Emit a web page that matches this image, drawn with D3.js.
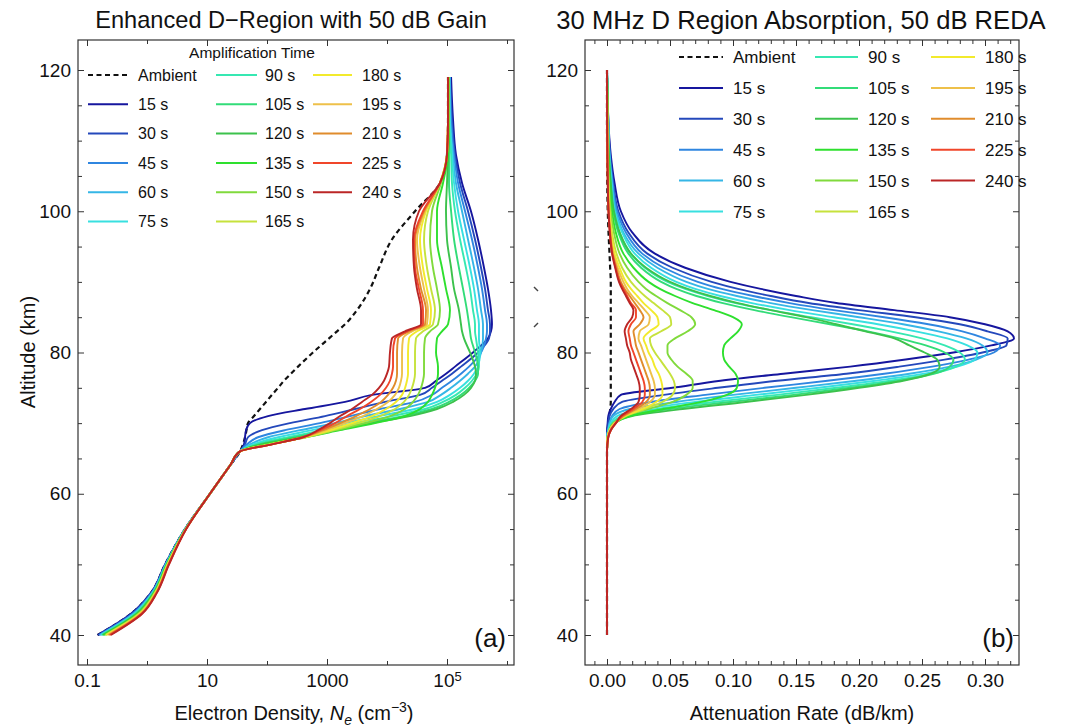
<!DOCTYPE html>
<html>
<head>
<meta charset="utf-8">
<script src="https://cdn.jsdelivr.net/npm/d3@7/dist/d3.min.js"></script>
<style>
html,body{margin:0;padding:0;background:#fff;}
svg text{font-family:'Liberation Sans',Arial,Helvetica,sans-serif;}
</style>
</head>
<body>
<svg id="chart" width="1083" height="727"></svg>
<script>
// ---------------- DATA ----------------
const timeLabels = ["15 s","30 s","45 s","60 s","75 s","90 s","105 s","120 s","135 s","150 s","165 s","180 s","195 s","210 s","225 s","240 s"];
const timeColors = ["#16169e","#2448bb","#2f86e0","#35b6e6","#38e0e0","#36e8b2","#32dc78","#3cc24c","#2ee02e","#80da3c","#c6e23c","#f2ea2c","#eec04a","#e08c2c","#f0462a","#bb2626"];

const xTicksNe = [0.1, 10, 1000, 1e5];
const xMinorNe = [1, 100, 1e4, 1e6];
const xTicksAtt = [0, 0.05, 0.10, 0.15, 0.20, 0.25, 0.30];
const yTicks = [40, 60, 80, 100, 120];

// Panel (a): electron density (cm^-3) at these altitudes (km)
const altNe = [40,43,46,50,55,60,64,66,67,68,69,70,71,72,73,74,75,76,77,78,80,82,83,84,86,89,92,96,100,104,108,113,119];
const neAmbient = [0.15,0.54,1.17,2.0,4.3,11.2,24.2,35.5,39.8,43.0,45.5,48.2,60.7,76.4,96.2,121,153,192,251,329,584,1080,1470,2000,3160,5210,7360,1.21e4,2.93e4,7.64e4,1.00e5,1.04e5,1.04e5];
const ne15  = [0.15,0.54,1.17,2.0,4.3,11.2,24.2,35.5,41.4,43.0,44.7,52.1,104,430,2000,5620,4.30e4,6.56e4,9.62e4,1.36e5,2.71e5,4.82e5,5.41e5,5.62e5,5.41e5,4.82e5,4.14e5,3.29e5,2.51e5,1.78e5,1.41e5,1.26e5,1.17e5];
const ne30  = [0.155,0.56,1.19,2.02,4.3,11.2,24.2,35.5,43.0,48.2,82.5,242,926,2930,9260,3.55e4,5.62e4,8.25e4,1.21e5,1.71e5,3.29e5,5.01e5,5.21e5,5.21e5,4.82e5,4.30e5,3.69e5,2.93e5,2.24e5,1.65e5,1.36e5,1.21e5,1.12e5];
const ne45  = [0.16,0.58,1.21,2.04,4.32,11.2,24.2,35.5,46.4,70.8,200,764,2420,7640,2.93e4,5.62e4,8.25e4,1.21e5,1.71e5,2.33e5,3.69e5,4.47e5,4.64e5,4.64e5,4.30e5,3.83e5,3.29e5,2.61e5,2.00e5,1.53e5,1.31e5,1.17e5,1.12e5];
const ne60  = [0.165,0.6,1.23,2.06,4.33,11.2,24.2,35.5,52.1,104,355,1360,4300,1.65e4,4.82e4,7.94e4,1.17e5,1.65e5,2.24e5,2.93e5,3.69e5,3.98e5,3.98e5,3.98e5,3.69e5,3.29e5,2.82e5,2.24e5,1.78e5,1.41e5,1.26e5,1.12e5,1.12e5];
const ne75  = [0.17,0.62,1.25,2.08,4.35,11.2,24.2,35.5,58.4,153,562,2000,7080,2.93e4,6.81e4,1.12e5,1.65e5,2.24e5,2.82e5,3.29e5,3.55e5,3.41e5,3.41e5,3.41e5,3.16e5,2.82e5,2.42e5,1.92e5,1.53e5,1.31e5,1.21e5,1.12e5,1.08e5];
const ne90  = [0.175,0.64,1.27,2.1,4.36,11.2,24.2,35.5,65.6,224,825,2930,1.21e4,4.30e4,8.58e4,1.41e5,2.00e5,2.61e5,3.16e5,3.41e5,3.29e5,3.04e5,2.93e5,2.93e5,2.71e5,2.42e5,2.07e5,1.65e5,1.36e5,1.21e5,1.17e5,1.08e5,1.08e5];
const ne105 = [0.18,0.66,1.29,2.12,4.38,11.2,24.2,35.5,73.6,293,1120,4300,1.85e4,5.62e4,1.08e5,1.71e5,2.33e5,2.93e5,3.29e5,3.29e5,2.93e5,2.51e5,2.42e5,2.33e5,2.15e5,1.85e5,1.58e5,1.31e5,1.17e5,1.08e5,1.08e5,1.08e5,1.08e5];
const ne120 = [0.185,0.68,1.31,2.14,4.4,11.2,24.2,35.5,82.5,355,1410,5620,2.42e4,6.81e4,1.26e5,1.92e5,2.51e5,2.93e5,3.04e5,2.93e5,2.42e5,1.92e5,1.78e5,1.71e5,1.58e5,1.31e5,1.17e5,1.00e5,9.62e4,1.00e5,1.04e5,1.08e5,1.08e5];
const ne135 = [0.19,0.70,1.33,2.16,4.41,11.2,24.2,35.5,92.6,430,1650,6310,2.00e4,3.55e4,4.82e4,5.62e4,6.31e4,6.81e4,7.08e4,7.08e4,6.56e4,6.81e4,8.25e4,1.04e5,1.12e5,9.62e4,8.25e4,6.81e4,6.81e4,8.58e4,1.04e5,1.08e5,1.08e5];
const ne150 = [0.2,0.72,1.35,2.18,4.42,11.2,24.2,35.5,104,447,1410,4300,1.12e4,2.00e4,2.71e4,3.29e4,3.69e4,3.98e4,4.14e4,4.14e4,4.14e4,4.30e4,5.21e4,7.08e4,7.64e4,6.81e4,5.84e4,5.21e4,5.62e4,7.94e4,1.00e5,1.08e5,1.08e5];
const ne165 = [0.205,0.74,1.37,2.2,4.44,11.2,24.2,35.5,112,430,1260,3290,7640,1.36e4,1.92e4,2.33e4,2.61e4,2.82e4,2.93e4,2.93e4,2.93e4,3.04e4,3.98e4,5.84e4,6.31e4,5.41e4,4.64e4,4.14e4,4.82e4,7.64e4,1.00e5,1.04e5,1.04e5];
const ne180 = [0.21,0.76,1.39,2.22,4.45,11.2,24.2,35.5,117,414,1120,2610,5620,9620,1.41e4,1.78e4,2.00e4,2.15e4,2.24e4,2.24e4,2.24e4,2.33e4,3.16e4,5.21e4,5.41e4,4.64e4,3.98e4,3.55e4,4.47e4,7.64e4,1.00e5,1.04e5,1.04e5];
const ne195 = [0.22,0.78,1.41,2.25,4.46,11.2,24.2,35.5,117,414,962,2000,3980,6810,1.04e4,1.36e4,1.58e4,1.71e4,1.78e4,1.78e4,1.78e4,1.85e4,2.61e4,4.64e4,4.82e4,4.14e4,3.55e4,3.16e4,4.30e4,7.64e4,1.00e5,1.04e5,1.04e5];
const ne210 = [0.23,0.80,1.43,2.28,4.48,11.2,24.2,35.5,121,398,858,1650,3040,5210,7940,1.04e4,1.26e4,1.41e4,1.47e4,1.47e4,1.47e4,1.53e4,2.33e4,4.30e4,4.47e4,3.69e4,3.16e4,2.93e4,4.14e4,7.64e4,1.00e5,1.04e5,1.04e5];
const ne225 = [0.24,0.82,1.45,2.3,4.49,11.2,24.2,35.5,121,398,764,1360,2150,3550,5410,7640,9620,1.12e4,1.21e4,1.26e4,1.26e4,1.36e4,2.15e4,3.98e4,3.98e4,3.41e4,2.93e4,2.82e4,3.98e4,7.64e4,1.00e5,1.04e5,1.04e5];
const ne240 = [0.25,0.83,1.47,2.33,4.5,11.2,24.2,35.5,121,398,708,1120,1650,2610,3830,5620,7360,8910,1.00e4,1.08e4,1.12e4,1.21e4,2.00e4,3.69e4,3.69e4,3.16e4,2.82e4,2.71e4,3.41e4,7.64e4,1.00e5,1.04e5,1.04e5];

// Panel (b): attenuation rate (dB/km) at these altitudes (km)
const altAtt = [40,66,68,69,70,71,72,73,74,75,76,77,78,79,80,81,82,83,84,85,86,87,88,89,90,92,94,97,100,104,108,113,120];
const attAmbient = [0,0,0.0005,0.001,0.0015,0.002,0.0025,0.003,0.003,0.003,0.003,0.003,0.003,0.003,0.003,0.003,0.003,0.003,0.003,0.003,0.003,0.003,0.003,0.003,0.003,0.0025,0.002,0.0012,0.0006,0.0002,0.0001,0,0];
const att15  = [0,0,0,0,0.0005,0.001,0.003,0.006,0.011,0.052,0.090,0.140,0.193,0.237,0.275,0.305,0.323,0.318,0.300,0.272,0.228,0.182,0.150,0.122,0.098,0.062,0.038,0.020,0.011,0.006,0.003,0.001,0];
const att30  = [0,0,0,0.0005,0.001,0.002,0.005,0.012,0.045,0.088,0.135,0.190,0.232,0.268,0.298,0.317,0.318,0.302,0.280,0.245,0.200,0.160,0.130,0.104,0.083,0.052,0.032,0.017,0.009,0.005,0.0025,0.001,0];
const att45  = [0,0,0,0.001,0.002,0.004,0.010,0.035,0.078,0.125,0.175,0.220,0.258,0.287,0.307,0.312,0.300,0.282,0.255,0.220,0.180,0.145,0.116,0.091,0.072,0.045,0.028,0.015,0.008,0.0045,0.002,0.001,0];
const att60  = [0,0,0,0.001,0.002,0.005,0.018,0.055,0.100,0.150,0.198,0.240,0.272,0.293,0.302,0.298,0.285,0.263,0.235,0.200,0.163,0.130,0.103,0.080,0.063,0.040,0.025,0.013,0.007,0.004,0.002,0.001,0];
const att75  = [0,0,0,0.001,0.003,0.008,0.030,0.070,0.118,0.168,0.213,0.252,0.278,0.292,0.294,0.286,0.270,0.245,0.215,0.180,0.145,0.115,0.090,0.070,0.055,0.035,0.022,0.012,0.006,0.0035,0.0018,0.001,0];
const att90  = [0,0,0.0005,0.0015,0.004,0.012,0.040,0.085,0.135,0.182,0.225,0.258,0.277,0.284,0.280,0.268,0.250,0.225,0.195,0.162,0.130,0.102,0.080,0.062,0.048,0.030,0.019,0.010,0.0055,0.003,0.0015,0.0008,0];
const att105 = [0,0,0.0005,0.002,0.005,0.016,0.050,0.098,0.148,0.193,0.232,0.260,0.272,0.275,0.268,0.253,0.232,0.207,0.177,0.146,0.117,0.092,0.071,0.055,0.043,0.027,0.017,0.009,0.005,0.0028,0.0014,0.0007,0];
const att120 = [0,0,0.0005,0.002,0.006,0.020,0.060,0.110,0.158,0.200,0.235,0.257,0.264,0.262,0.252,0.240,0.228,0.205,0.182,0.158,0.130,0.104,0.082,0.064,0.050,0.031,0.019,0.010,0.0055,0.003,0.0015,0.0007,0];
const att135 = [0,0,0.0005,0.002,0.006,0.018,0.045,0.075,0.095,0.103,0.104,0.102,0.097,0.093,0.092,0.093,0.098,0.104,0.107,0.100,0.085,0.068,0.054,0.042,0.033,0.021,0.013,0.007,0.004,0.002,0.001,0.0005,0];
const att150 = [0,0,0.0005,0.002,0.005,0.014,0.033,0.052,0.063,0.068,0.068,0.063,0.056,0.051,0.048,0.048,0.054,0.064,0.070,0.067,0.058,0.048,0.039,0.031,0.025,0.016,0.010,0.0055,0.003,0.0015,0.0008,0.0004,0];
const att165 = [0,0,0.0005,0.002,0.006,0.015,0.030,0.044,0.052,0.054,0.053,0.050,0.046,0.042,0.038,0.035,0.034,0.043,0.051,0.050,0.044,0.037,0.030,0.024,0.019,0.012,0.0075,0.004,0.0022,0.0012,0.0006,0.0003,0];
const att180 = [0,0,0.0005,0.002,0.006,0.014,0.028,0.039,0.044,0.044,0.043,0.041,0.038,0.036,0.033,0.031,0.029,0.034,0.041,0.040,0.035,0.029,0.024,0.019,0.015,0.010,0.006,0.0033,0.0018,0.001,0.0005,0.0002,0];
const att195 = [0,0,0.0005,0.002,0.006,0.013,0.025,0.034,0.038,0.038,0.037,0.035,0.033,0.031,0.029,0.027,0.025,0.026,0.033,0.034,0.030,0.025,0.020,0.016,0.013,0.0085,0.005,0.0028,0.0015,0.0008,0.0004,0.0002,0];
const att210 = [0,0,0.001,0.003,0.007,0.013,0.023,0.031,0.034,0.034,0.033,0.031,0.029,0.027,0.025,0.023,0.022,0.021,0.026,0.029,0.026,0.022,0.018,0.014,0.011,0.0075,0.0045,0.0025,0.0013,0.0007,0.0003,0.0001,0];
const att225 = [0,0,0.001,0.003,0.007,0.012,0.021,0.028,0.030,0.030,0.029,0.027,0.025,0.023,0.021,0.019,0.018,0.017,0.019,0.023,0.023,0.019,0.016,0.013,0.010,0.0068,0.0042,0.0023,0.0012,0.0006,0.0003,0.0001,0];
const att240 = [0,0,0.001,0.003,0.007,0.011,0.019,0.025,0.026,0.026,0.025,0.023,0.021,0.019,0.018,0.016,0.015,0.014,0.016,0.020,0.021,0.018,0.015,0.012,0.0095,0.0065,0.004,0.0022,0.0012,0.0006,0.0003,0.0001,0];

const neSeries  = [ne15,ne30,ne45,ne60,ne75,ne90,ne105,ne120,ne135,ne150,ne165,ne180,ne195,ne210,ne225,ne240];
const attSeries = [att15,att30,att45,att60,att75,att90,att105,att120,att135,att150,att165,att180,att195,att210,att225,att240];

(function(){
// ---------------- LAYOUT ----------------
const svg = d3.select("#chart");
const FONT = "'Liberation Sans', Arial, Helvetica, sans-serif";
const pTop = 40, pBottom = 665;
const aL = 78, aR = 514, bL = 585, bR = 1019;

const y0 = d3.scaleLinear().domain([40,120]).range([635,70]);
const y = d3.scaleLinear().domain([y0.invert(pBottom), y0.invert(pTop)]).range([pBottom, pTop]);

const xa0 = d3.scaleLog().domain([0.1,1e5]).range([87,447]);
const xA = d3.scaleLog().domain([xa0.invert(aL), xa0.invert(aR)]).range([aL, aR]);

const xb0 = d3.scaleLinear().domain([0,0.3]).range([607,985]);
const xB = d3.scaleLinear().domain([xb0.invert(bL), xb0.invert(bR)]).range([bL, bR]);

const yMinor = d3.range(45, 121, 5).filter(v => v % 20 !== 0);
const xMinorAtt = d3.range(-1, 33).map(v => v / 100).filter(v => Math.round(v*100) % 5 !== 0);

function styleAxis(g, size) {
  g.attr("font-family", FONT).attr("font-size", size).attr("color", "#2a2a2a");
  g.select(".domain").remove();
  g.selectAll(".tick line").attr("stroke", "#333").attr("stroke-width", 1);
  g.selectAll(".tick text").attr("fill", "#111");
}

function axes(x, x0, x1, majors, minors, fmt) {
  const g = svg.append("g");
  const gb = g.append("g").attr("transform", `translate(0,${pBottom})`)
    .call(d3.axisBottom(x).tickValues(majors).tickSize(-6).tickPadding(9).tickFormat(fmt))
    .call(s => styleAxis(s, 19));
  g.append("g").attr("transform", `translate(0,${pBottom})`)
    .call(d3.axisBottom(x).tickValues(minors).tickSize(-4).tickFormat(""))
    .call(s => styleAxis(s, 19));
  g.append("g").attr("transform", `translate(0,${pTop})`)
    .call(d3.axisTop(x).tickValues(majors).tickSize(-6).tickFormat(""))
    .call(s => styleAxis(s, 19));
  g.append("g").attr("transform", `translate(0,${pTop})`)
    .call(d3.axisTop(x).tickValues(minors).tickSize(-4).tickFormat(""))
    .call(s => styleAxis(s, 19));
  g.append("g").attr("transform", `translate(${x0},0)`)
    .call(d3.axisLeft(y).tickValues(yTicks).tickSize(-6).tickPadding(7).tickFormat(d3.format("d")))
    .call(s => styleAxis(s, 19));
  g.append("g").attr("transform", `translate(${x0},0)`)
    .call(d3.axisLeft(y).tickValues(yMinor).tickSize(-4).tickFormat(""))
    .call(s => styleAxis(s, 19));
  g.append("g").attr("transform", `translate(${x1},0)`)
    .call(d3.axisRight(y).tickValues(yTicks).tickSize(-6).tickFormat(""))
    .call(s => styleAxis(s, 19));
  g.append("g").attr("transform", `translate(${x1},0)`)
    .call(d3.axisRight(y).tickValues(yMinor).tickSize(-4).tickFormat(""))
    .call(s => styleAxis(s, 19));
  svg.append("rect").attr("x", x0).attr("y", pTop).attr("width", x1 - x0).attr("height", pBottom - pTop)
    .attr("fill", "none").attr("stroke", "#333").attr("stroke-width", 1.2);
  return gb;
}

// ---- Panel (a) ----
svg.append("clipPath").attr("id","clipA").append("rect").attr("x",aL).attr("y",pTop).attr("width",aR-aL).attr("height",pBottom-pTop);
const lineA = d3.line().x(d => xA(d[1])).y(d => y(d[0])).curve(d3.curveMonotoneY);
const gA = svg.append("g").attr("clip-path","url(#clipA)");
gA.append("path").datum(altNe.map((a,i)=>[a, neAmbient[i]]))
  .attr("d", lineA).attr("fill","none").attr("stroke","#111").attr("stroke-width",2.2).attr("stroke-dasharray","5,3.5");
neSeries.forEach((s, k) => {
  gA.append("path").datum(altNe.map((a,i)=>[a, s[i]]))
    .attr("d", lineA).attr("fill","none").attr("stroke", timeColors[k]).attr("stroke-width",1.9).attr("stroke-linejoin","round");
});
const axBottomA = axes(xA, aL, aR, xTicksNe, xMinorNe, d => d === 1e5 ? "10" : (d < 1 ? "0.1" : d3.format("d")(d)));
axBottomA.selectAll(".tick").filter(d => d === 1e5).select("text")
  .append("tspan").attr("dy","-0.5em").attr("font-size","13px").text("5");

// ---- Panel (b) ----
svg.append("clipPath").attr("id","clipB").append("rect").attr("x",bL).attr("y",pTop).attr("width",bR-bL).attr("height",pBottom-pTop);
const lineB = d3.line().x(d => xB(d[1])).y(d => y(d[0])).curve(d3.curveMonotoneY);
const gB = svg.append("g").attr("clip-path","url(#clipB)");
gB.append("path").datum(altAtt.map((a,i)=>[a, attAmbient[i]]))
  .attr("d", lineB).attr("fill","none").attr("stroke","#111").attr("stroke-width",2.2).attr("stroke-dasharray","5,3.5");
attSeries.forEach((s, k) => {
  gB.append("path").datum(altAtt.map((a,i)=>[a, s[i]]))
    .attr("d", lineB).attr("fill","none").attr("stroke", timeColors[k]).attr("stroke-width",1.9).attr("stroke-linejoin","round");
});
axes(xB, bL, bR, xTicksAtt, xMinorAtt, d3.format(".2f"));

// small stray marks between the panels (present in the original figure)
svg.append("line").attr("x1",534).attr("y1",287).attr("x2",538).attr("y2",291).attr("stroke","#444").attr("stroke-width",1.5);
svg.append("line").attr("x1",534).attr("y1",327).attr("x2",538).attr("y2",323).attr("stroke","#444").attr("stroke-width",1.5);

// ---- Titles ----
svg.append("text").attr("x", 291).attr("y", 28).attr("text-anchor","middle")
  .attr("font-size", 23.6).attr("fill","#111").text("Enhanced D\u2212Region with 50 dB Gain");
svg.append("text").attr("x", 801).attr("y", 29).attr("text-anchor","middle")
  .attr("font-size", 25.6).attr("fill","#111").text("30 MHz D Region Absorption, 50 dB REDA");

svg.append("text").attr("transform","translate(35,352) rotate(-90)").attr("text-anchor","middle")
  .attr("font-size", 20).attr("fill","#111").text("Altitude (km)");
const xt = svg.append("text").attr("x", 294).attr("y", 720).attr("text-anchor","middle").attr("font-size", 20).attr("fill","#111");
xt.append("tspan").text("Electron Density, ");
xt.append("tspan").attr("font-style","italic").text("N");
xt.append("tspan").attr("font-style","italic").attr("font-size","14px").attr("dy", 5).text("e");
xt.append("tspan").attr("dy", -5).text(" (cm");
xt.append("tspan").attr("font-size","14px").attr("dy", -8).text("\u22123");
xt.append("tspan").attr("dy", 8).text(")");
svg.append("text").attr("x", 802).attr("y", 720).attr("text-anchor","middle")
  .attr("font-size", 20).attr("fill","#111").text("Attenuation Rate (dB/km)");

svg.append("text").attr("x", 506).attr("y", 647).attr("text-anchor","end").attr("font-size", 26)
  .attr("font-family","'Open Sans', 'Liberation Sans', sans-serif").attr("fill","#111").text("(a)");
svg.append("text").attr("x", 1014).attr("y", 647).attr("text-anchor","end").attr("font-size", 26)
  .attr("font-family","'Open Sans', 'Liberation Sans', sans-serif").attr("fill","#111").text("(b)");

// ---- Legends ----
function legend(cfg) {
  const g = svg.append("g").attr("font-family", FONT).attr("font-size", cfg.fs);
  const entries = [{label:"Ambient", color:"#111", dash:true}].concat(timeLabels.map((l,i)=>({label:l, color:timeColors[i]})));
  entries.forEach((e, i) => {
    const col = Math.floor(i / 6), row = i % 6;
    const yy = cfg.y0 + row * cfg.dy;
    const c = cfg.cols[col];
    g.append("line").attr("x1", c[0]).attr("x2", c[1]).attr("y1", yy).attr("y2", yy)
      .attr("stroke", e.color).attr("stroke-width", e.dash ? 2.2 : 2)
      .attr("stroke-dasharray", e.dash ? "5,3.5" : null);
    g.append("text").attr("x", c[2]).attr("y", yy).attr("dy","0.36em").attr("fill","#111").text(e.label);
  });
}
svg.append("text").attr("x", 252).attr("y", 58).attr("text-anchor","middle").attr("font-size", 15.5)
  .attr("fill","#111").text("Amplification Time");
legend({y0: 75, dy: 29.3, fs: 16, cols: [[88,128,138],[216,257,265],[313,352,362]]});
legend({y0: 57, dy: 30.9, fs: 17, cols: [[679,723,733],[815,858,868],[931,975,985]]});
})();
</script>
</body>
</html>
